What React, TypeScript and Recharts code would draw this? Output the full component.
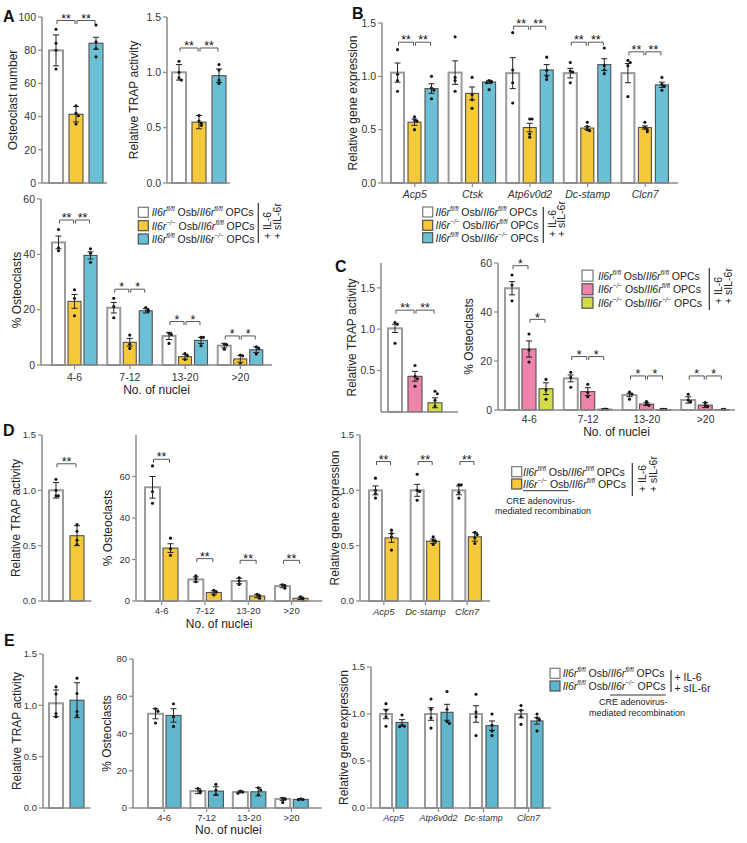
import React from 'react';
import { BarChart, Bar, XAxis, YAxis, ErrorBar } from 'recharts';

const FONT = '"Liberation Sans", Arial, Helvetica, sans-serif';
const AXIS_C = '#8a8a8a';
const TXT = '#222222';
const WHITE = '#ffffff';
const WHITE_EDGE = '#9a9a9a';
const YELLOW = '#F6C93B';
const BLUE = '#6CC0D6';
const BLUE_E = '#60B6CD';
const PINK = '#EE83AB';
const LIME = '#D3DB48';
const EDGE = '#505050';

// ---------------- Panel A ----------------
const aNumCats = [''];
const aNumCtrl = [79.9];
const aNumCtrlSem = [9.3];
const aNumCtrlPts = [[92.6, 84.2, 80.0, 68.7]];
const aNumOsbKo = [41.4];
const aNumOsbKoSem = [4.6];
const aNumOsbKoPts = [[46.5, 42.0, 40.5, 35.5]];
const aNumOpcKo = [84.2];
const aNumOpcKoSem = [3.6];
const aNumOpcKoPts = [[95.2, 85.0, 81.0, 76.0]];
const aNumSig = [
  { cat: 0, from: 0, to: 1, y: 97.9, text: '**' },
  { cat: 0, from: 1, to: 2, y: 97.9, text: '**' },
];

const aTrapCtrl = [1.0];
const aTrapCtrlSem = [0.07];
const aTrapCtrlPts = [[1.1, 1.0, 0.95, 0.93]];
const aTrapOsbKo = [0.55];
const aTrapOsbKoSem = [0.06];
const aTrapOsbKoPts = [[0.61, 0.56, 0.54, 0.52]];
const aTrapOpcKo = [0.97];
const aTrapOpcKoSem = [0.06];
const aTrapOpcKoPts = [[1.07, 1.02, 0.93, 0.9]];
const aTrapSig = [
  { cat: 0, from: 0, to: 1, y: 1.22, text: '**' },
  { cat: 0, from: 1, to: 2, y: 1.22, text: '**' },
];

const nucCats = ['4-6', '7-12', '13-20', '>20'];
const aPctCtrl = [44.3, 20.7, 10.5, 7.0];
const aPctCtrlSem = [2.3, 1.9, 1.3, 0.8];
const aPctCtrlPts = [[49.0, 42.4, 41.3], [24.1, 21.1, 17.1], [11.5, 11.0, 7.8], [7.6, 7.3, 5.7]];
const aPctOsbKo = [23.0, 8.2, 3.0, 2.2];
const aPctOsbKoSem = [2.5, 1.4, 0.9, 1.2];
const aPctOsbKoPts = [[27.2, 24.1, 17.8], [10.8, 7.5, 6.0], [4.1, 3.4, 2.0], [3.6, 3.3, 0.3]];
const aPctOpcKo = [39.6, 19.6, 8.9, 5.5];
const aPctOpcKoSem = [1.3, 0.8, 1.1, 1.0];
const aPctOpcKoPts = [[42.0, 40.4, 37.1], [20.8, 20.0, 19.3], [10.0, 10.0, 7.0], [6.6, 6.0, 4.0]];
const aPctSig = [
  { cat: 0, from: 0, to: 1, y: 52.4, text: '**' },
  { cat: 0, from: 1, to: 2, y: 52.4, text: '**' },
  { cat: 1, from: 0, to: 1, y: 27.4, text: '*' },
  { cat: 1, from: 1, to: 2, y: 27.4, text: '*' },
  { cat: 2, from: 0, to: 1, y: 15.7, text: '*' },
  { cat: 2, from: 1, to: 2, y: 15.7, text: '*' },
  { cat: 3, from: 0, to: 1, y: 10.5, text: '*' },
  { cat: 3, from: 1, to: 2, y: 10.5, text: '*' },
];

// ---------------- Panel B ----------------
const bGenes = ['Acp5', 'Ctsk', 'Atp6v0d2', 'Dc-stamp', 'Clcn7'];
const bCtrl = [1.035, 1.035, 1.03, 1.03, 1.03];
const bCtrlSem = [0.09, 0.11, 0.145, 0.045, 0.09];
const bCtrlPts = [[1.25, 1.02, 0.96, 0.86], [1.37, 0.99, 0.96, 0.86], [1.41, 1.06, 0.94, 0.75], [1.13, 1.05, 1.04, 0.94], [1.15, 1.13, 1.1, 0.81]];
const bOsbKo = [0.57, 0.84, 0.52, 0.515, 0.52];
const bOsbKoSem = [0.03, 0.06, 0.04, 0.015, 0.015];
const bOsbKoPts = [[0.62, 0.59, 0.58, 0.5], [0.99, 0.83, 0.78, 0.7], [0.6, 0.6, 0.46, 0.43], [0.57, 0.53, 0.5, 0.49], [0.57, 0.52, 0.5, 0.48]];
const bOpcKo = [0.885, 0.947, 1.06, 1.11, 0.92];
const bOpcKoSem = [0.045, 0.015, 0.05, 0.055, 0.025];
const bOpcKoPts = [[1.0, 0.89, 0.87, 0.79], [0.96, 0.95, 0.94, 0.875], [1.18, 1.056, 1.0, 0.97], [1.265, 1.1, 1.06, 1.025], [0.99, 0.925, 0.906, 0.87]];
const bSig = [
  { cat: 0, from: 0, to: 1, y: 1.32, text: '**' },
  { cat: 0, from: 1, to: 2, y: 1.32, text: '**' },
  { cat: 2, from: 0, to: 1, y: 1.47, text: '**' },
  { cat: 2, from: 1, to: 2, y: 1.47, text: '**' },
  { cat: 3, from: 0, to: 1, y: 1.32, text: '**' },
  { cat: 3, from: 1, to: 2, y: 1.32, text: '**' },
  { cat: 4, from: 0, to: 1, y: 1.23, text: '**' },
  { cat: 4, from: 1, to: 2, y: 1.23, text: '**' },
];

// ---------------- Panel C ----------------
const cTrapCats = [''];
const cTrapCtrl = [1.01];
const cTrapCtrlSem = [0.05];
const cTrapCtrlPts = [[1.08, 1.06, 0.83]];
const cTrapOsbKo = [0.43];
const cTrapOsbKoSem = [0.06];
const cTrapOsbKoPts = [[0.56, 0.43, 0.4, 0.31]];
const cTrapDko = [0.11];
const cTrapDkoSem = [0.06];
const cTrapDkoPts = [[0.25, 0.22, 0.14, 0.07]];
const cTrapSig = [
  { cat: 0, from: 0, to: 1, y: 1.23, text: '**' },
  { cat: 0, from: 1, to: 2, y: 1.23, text: '**' },
];

const cPctCtrl = [49.7, 12.9, 6.1, 4.1];
const cPctCtrlSem = [2.7, 1.4, 0.7, 1.3];
const cPctCtrlPts = [[55.1, 51.0, 44.6], [15.4, 13.3, 9.3], [7.3, 6.5, 4.4], [6.4, 4.1, 3.4]];
const cPctOsbKo = [24.9, 7.5, 2.4, 2.0];
const cPctOsbKoSem = [3.3, 1.6, 0.6, 1.0];
const cPctOsbKoPts = [[31.0, 24.5, 19.6], [10.5, 7.1, 5.4], [3.5, 2.4, 1.9], [3.0, 1.8, 1.4]];
const cPctDko = [8.7, 0.3, 0.15, 0.1];
const cPctDkoSem = [2.4, 0.1, 0.05, 0];
const cPctDkoPts = [[12.5, 8.2, 4.4], [0.4, 0.3, 0.2], [0.3, 0.3, 0.3], [0.3, 0.3]];
const cPctSig = [
  { cat: 0, from: 0, to: 1, y: 58.9, text: '*' },
  { cat: 0, from: 1, to: 2, y: 37.0, text: '*' },
  { cat: 1, from: 0, to: 1, y: 21.8, text: '*' },
  { cat: 1, from: 1, to: 2, y: 21.8, text: '*' },
  { cat: 2, from: 0, to: 1, y: 13.9, text: '*' },
  { cat: 2, from: 1, to: 2, y: 13.9, text: '*' },
  { cat: 3, from: 0, to: 1, y: 13.9, text: '*' },
  { cat: 3, from: 1, to: 2, y: 13.9, text: '*' },
];

// ---------------- Panel D ----------------
const dTrapCats = [''];
const dTrapCtrl = [1.0];
const dTrapCtrlSem = [0.07];
const dTrapCtrlPts = [[1.1, 1.0, 0.95, 0.95]];
const dTrapOsbKo = [0.59];
const dTrapOsbKoSem = [0.09];
const dTrapOsbKoPts = [[0.69, 0.63, 0.55, 0.51]];
const dTrapSig = [{ cat: 0, from: 0, to: 1, y: 1.24, text: '**' }];

const dPctCtrl = [54.8, 10.4, 9.6, 7.2];
const dPctCtrlSem = [5.2, 1.2, 1.3, 0.8];
const dPctCtrlPts = [[65.1, 52.8, 47.1], [12.1, 10.7, 9.3], [11.2, 9.6, 8.0], [7.8, 7.4, 6.2]];
const dPctOsbKo = [25.5, 4.1, 2.4, 1.3];
const dPctOsbKoSem = [2.1, 0.8, 0.8, 0.6];
const dPctOsbKoPts = [[30.3, 25.2, 22.0], [5.2, 4.4, 2.9], [3.2, 2.5, 1.3], [2.0, 1.3, 0.5]];
const dPctSig = [
  { cat: 0, from: 0, to: 1, y: 68.3, text: '**' },
  { cat: 1, from: 0, to: 1, y: 20.4, text: '**' },
  { cat: 2, from: 0, to: 1, y: 19.6, text: '**' },
  { cat: 3, from: 0, to: 1, y: 19.6, text: '**' },
];

const dGenes = ['Acp5', 'Dc-stamp', 'Clcn7'];
const dGeneCtrl = [1.0, 1.0, 1.0];
const dGeneCtrlSem = [0.04, 0.054, 0.04];
const dGeneCtrlPts = [[1.11, 1.0, 0.97, 0.93], [1.145, 1.0, 0.99, 0.91], [1.05, 1.05, 0.98, 0.93]];
const dGeneOsbKo = [0.57, 0.54, 0.58];
const dGeneOsbKoSem = [0.04, 0.02, 0.04];
const dGeneOsbKoPts = [[0.64, 0.61, 0.58, 0.46], [0.58, 0.55, 0.54, 0.51], [0.62, 0.6, 0.57, 0.52]];
const dGeneSig = [
  { cat: 0, from: 0, to: 1, y: 1.26, text: '**' },
  { cat: 1, from: 0, to: 1, y: 1.26, text: '**' },
  { cat: 2, from: 0, to: 1, y: 1.26, text: '**' },
];

// ---------------- Panel E ----------------
const eTrapCats = [''];
const eTrapCtrl = [1.02];
const eTrapCtrlSem = [0.13];
const eTrapCtrlPts = [[1.18, 1.11, 0.92, 0.89]];
const eTrapOpcKo = [1.05];
const eTrapOpcKoSem = [0.17];
const eTrapOpcKoPts = [[1.265, 1.115, 0.94, 0.9]];

const ePctCtrl = [50.6, 9.1, 8.6, 4.8];
const ePctCtrlSem = [2.7, 1.4, 0.5, 0.7];
const ePctCtrlPts = [[53.3, 52.0, 45.6], [10.5, 9.3, 8.2], [9.1, 8.6, 7.9], [5.2, 4.8, 3.0]];
const ePctOpcKo = [49.7, 9.1, 8.7, 4.6];
const ePctOpcKoSem = [3.6, 2.3, 2.2, 0.3];
const ePctOpcKoPts = [[56.0, 49.0, 43.8], [12.7, 9.7, 7.3], [10.9, 9.7, 7.1], [5.0, 4.6, 4.5]];

const eGenes = ['Acp5', 'Atp6v0d2', 'Dc-stamp', 'Clcn7'];
const eGeneCtrl = [1.0, 1.0, 1.0, 1.0];
const eGeneCtrlSem = [0.05, 0.067, 0.088, 0.04];
const eGeneCtrlPts = [[1.11, 1.04, 0.97, 0.87], [1.16, 1.05, 0.96, 0.85], [1.21, 1.02, 0.97, 0.77], [1.09, 1.04, 0.97, 0.89]];
const eGeneOpcKo = [0.91, 1.018, 0.876, 0.926];
const eGeneOpcKoSem = [0.03, 0.085, 0.05, 0.034];
const eGeneOpcKoPts = [[0.99, 0.88, 0.87, 0.865], [1.24, 1.05, 0.92, 0.9], [1.0, 0.88, 0.82, 0.77], [1.0, 0.96, 0.94, 0.82]];

// ---------------- Text ----------------
type Tok = { t: string; it?: boolean; sup?: boolean };
const lblCtrl: Tok[] = [{ t: 'Il6r', it: true }, { t: 'fl/fl', sup: true }, { t: ' Osb/' }, { t: 'Il6r', it: true }, { t: 'fl/fl', sup: true }, { t: ' OPCs' }];
const lblOsbKo: Tok[] = [{ t: 'Il6r', it: true }, { t: '\u2212/\u2212', sup: true }, { t: ' Osb/' }, { t: 'Il6r', it: true }, { t: 'fl/fl', sup: true }, { t: ' OPCs' }];
const lblOpcKo: Tok[] = [{ t: 'Il6r', it: true }, { t: 'fl/fl', sup: true }, { t: ' Osb/' }, { t: 'Il6r', it: true }, { t: '\u2212/\u2212', sup: true }, { t: ' OPCs' }];
const lblDko: Tok[] = [{ t: 'Il6r', it: true }, { t: '\u2212/\u2212', sup: true }, { t: ' Osb/' }, { t: 'Il6r', it: true }, { t: '\u2212/\u2212', sup: true }, { t: ' OPCs' }];
const treatText = ['+ IL-6', '+ sIL-6r'];
const creText = ['CRE adenovirus-', 'mediated recombination'];
const yTitles = ['Osteoclast number', 'Relative TRAP activity', '% Osteoclasts', 'Relative gene expression'];
const xTitle = 'No. of nuclei';

// ---------------- Chart machinery ----------------
type Series = { vals: number[]; sem: number[]; pts: number[][]; fill: string };
type Sig = { cat: number; from: number; to: number; y: number; text: string };
type Layout = { ax: number; xr: number; yt: number; yb: number; mt: number; xH: number; yW: number; padL: number; padR: number; barSize: number; barGap: number };

const ser = (vals: number[], sem: number[], pts: number[][], fill: string): Series => ({ vals, sem, pts, fill });

function YTitle(props: any) {
  const vb = props.viewBox || { x: 0, y: 0, width: 0, height: 0 };
  const cx = vb.x + vb.width - props.d;
  const cy = vb.y + vb.height / 2 + (props.shift || 0);
  return (
    <text x={cx} y={cy} transform={`rotate(-90 ${cx} ${cy})`} textAnchor="middle" dominantBaseline="central" fontSize={12} fontFamily={FONT} fill={TXT}>
      {props.text}
    </text>
  );
}

function XTitle(props: any) {
  const vb = props.viewBox || { x: 0, y: 0, width: 0, height: 0 };
  const cx = vb.x + vb.width / 2 + (props.dx || 0);
  const cy = vb.y + props.d;
  return (
    <text x={cx} y={cy} textAnchor="middle" dominantBaseline="central" fontSize={12} fontFamily={FONT} fill={TXT}>
      {props.text}
    </text>
  );
}

function makeShape(k: number, s: Series, dmax: number, sig: Sig[], cats: string[], gap: number, fbTop: number, fbH: number) {
  return (p: any) => {
    const { x, y, width, height, payload } = p;
    if (x == null || width == null) return <g />;
    const bg = p.background;
    const top = bg && bg.height ? bg.y : fbTop;
    const h = bg && bg.height ? bg.height : fbH;
    const py = (v: number) => top + h * (1 - v / dmax);
    const cx = x + width / 2;
    const idx = cats.indexOf(payload ? payload.cat : '');
    const pts: number[] = (payload && payload['p' + k]) || [];
    const placed: number[] = [];
    const dots = pts.map((v, j) => {
      const yy = py(v);
      const near = placed.filter((q) => Math.abs(q - yy) < 2.6).length;
      placed.push(yy);
      const dx = near === 0 ? 0 : (near % 2 === 1 ? 2.4 : -2.4) * Math.ceil(near / 2);
      return <circle key={j} cx={cx + dx} cy={yy} r={1.55} fill="#111" />;
    });
    const step = width + gap;
    const brs = sig
      .filter((b) => b.cat === idx && b.from === k)
      .map((b, j) => {
        const x1 = cx + 1;
        const x2 = cx + (b.to - b.from) * step - 1;
        const yy = py(b.y);
        return (
          <g key={'b' + j}>
            <path d={`M${x1},${yy + 3.5}V${yy}H${x2}V${yy + 3.5}`} fill="none" stroke="#555" strokeWidth={1} />
            <text x={(x1 + x2) / 2} y={yy + 2.2} textAnchor="middle" fontSize={12.5} fontFamily={FONT} fill="#111">
              {b.text}
            </text>
          </g>
        );
      });
    const white = s.fill === WHITE;
    return (
      <g>
        <rect x={x} y={y} width={width} height={Math.max(height, 0)} fill={s.fill} stroke={white ? WHITE_EDGE : EDGE} strokeWidth={white ? 2 : 1.1} />
        {dots}
        {brs}
      </g>
    );
  };
}

type ChartProps = {
  cats: string[];
  series: Series[];
  sig: Sig[];
  dmax: number;
  ticks: number[];
  dec: number;
  ylabel: string;
  ylabelD: number;
  ylabelShift?: number;
  xlabel?: string;
  xlabelD?: number;
  xlabelDx?: number;
  showCats: boolean;
  italic?: boolean;
  catTicks?: boolean;
  tickMargin?: number;
  tickFs?: number;
  catFs?: number;
  lay: Layout;
};

function SigChart(props: ChartProps) {
  const { lay, cats, series } = props;
  const mr = 4;
  const width = lay.yW + (lay.xr - lay.ax) + mr;
  const height = lay.mt + (lay.yb - lay.yt) + lay.xH;
  const data = cats.map((c, i) => {
    const r: any = { cat: c };
    series.forEach((s, k) => {
      r['v' + k] = s.vals[i];
      r['e' + k] = s.sem[i];
      r['p' + k] = s.pts[i];
    });
    return r;
  });
  const tfs = props.tickFs ?? 10.5;
  const tickStyle: any = { fontSize: tfs, fill: '#333', fontFamily: FONT };
  const catStyle: any = { fontSize: props.catFs ?? tfs, fill: '#333', fontFamily: FONT, fontStyle: props.italic ? 'italic' : 'normal' };
  return (
    <div style={{ position: 'absolute', left: lay.ax - lay.yW, top: lay.yt - lay.mt, width, height }}>
      <BarChart width={width} height={height} data={data} margin={{ top: lay.mt, right: mr, bottom: 0, left: 0 }} barGap={lay.barGap} barSize={lay.barSize}>
        <XAxis
          dataKey="cat"
          type="category"
          interval={0}
          padding={{ left: lay.padL, right: lay.padR }}
          height={lay.xH}
          axisLine={{ stroke: AXIS_C, strokeWidth: 1.5 }}
          tickLine={props.catTicks ? { stroke: AXIS_C, strokeWidth: 1.2 } : false}
          tickSize={props.catTicks ? 4 : 0}
          tickMargin={props.tickMargin ?? 3}
          tick={props.showCats ? catStyle : false}
          label={props.xlabel ? <XTitle text={props.xlabel} d={props.xlabelD} dx={props.xlabelDx || 0} /> : undefined}
        />
        <YAxis
          type="number"
          domain={[0, props.dmax]}
          ticks={props.ticks}
          interval={0}
          width={lay.yW}
          axisLine={{ stroke: AXIS_C, strokeWidth: 1.5 }}
          tickLine={{ stroke: AXIS_C, strokeWidth: 1.2 }}
          tickSize={4}
          tickMargin={2}
          tick={tickStyle}
          tickFormatter={(v: number) => Number(v).toFixed(props.dec)}
          label={<YTitle text={props.ylabel} d={props.ylabelD} shift={props.ylabelShift || 0} />}
        />
        {series.map((s, k) => (
          <Bar
            key={k}
            dataKey={'v' + k}
            barSize={lay.barSize}
            isAnimationActive={false}
            shape={makeShape(k, s, props.dmax, props.sig, cats, lay.barGap, lay.mt, lay.yb - lay.yt)}
          >
            <ErrorBar dataKey={'e' + k} width={3} stroke="#222" strokeWidth={1} direction="y" isAnimationActive={false} />
          </Bar>
        ))}
      </BarChart>
    </div>
  );
}

// ---------------- Legend overlay ----------------
function Rich({ x, y, toks, fs }: { x: number; y: number; toks: Tok[]; fs: number }) {
  let up = false;
  const kids = toks.map((tk, j) => {
    if (tk.sup) {
      const el = (
        <tspan key={j} fontSize={fs * 0.62} dy={up ? 0 : -fs * 0.4} fontStyle="italic">
          {tk.t}
        </tspan>
      );
      up = true;
      return el;
    }
    const el = (
      <tspan key={j} fontSize={fs} dy={up ? fs * 0.4 : 0} fontStyle={tk.it ? 'italic' : 'normal'}>
        {tk.t}
      </tspan>
    );
    up = false;
    return el;
  });
  return (
    <text x={x} y={y} fontSize={fs} fontFamily={FONT} fill={TXT} dominantBaseline="central" style={{ whiteSpace: 'pre' }}>
      {kids}
    </text>
  );
}

type Row = { fill: string; toks: Tok[] };
function LegendRows({ sx, tx, rowY, rows, sw = 10, sh = 10 }: { sx: number; tx: number; rowY: number[]; rows: Row[]; sw?: number; sh?: number }) {
  return (
    <g>
      {rows.map((r, i) => (
        <g key={i}>
          <rect x={sx} y={rowY[i] - sh / 2} width={sw} height={sh} fill={r.fill} stroke={r.fill === WHITE ? '#777' : EDGE} strokeWidth={1.2} />
          <Rich x={tx} y={rowY[i]} toks={r.toks} fs={10.5} />
        </g>
      ))}
    </g>
  );
}

function Treat({ lx, y1, y2, xs, bottom }: { lx: number; y1: number; y2: number; xs: number[]; bottom: number }) {
  return (
    <g>
      <line x1={lx} y1={y1} x2={lx} y2={y2} stroke="#333" strokeWidth={1.2} />
      {treatText.map((t, i) => (
        <text key={i} x={xs[i]} y={bottom} transform={`rotate(-90 ${xs[i]} ${bottom})`} fontSize={10.5} fontFamily={FONT} fill={TXT} dominantBaseline="central" textAnchor="start" style={{ whiteSpace: 'pre' }}>
          {t}
        </text>
      ))}
    </g>
  );
}

function Letter({ x, y, t }: { x: number; y: number; t: string }) {
  return (
    <text x={x} y={y} fontSize={16} fontWeight="bold" fontFamily={FONT} fill="#111">
      {t}
    </text>
  );
}

function Overlay() {
  return (
    <svg width={747} height={843} style={{ position: 'absolute', left: 0, top: 0, pointerEvents: 'none' }}>
      <Letter x={3} y={22} t="A" />
      <Letter x={352} y={19} t="B" />
      <Letter x={335} y={272} t="C" />
      <Letter x={3} y={436} t="D" />
      <Letter x={4} y={646} t="E" />

      {/* A legend */}
      <LegendRows sx={138.3} tx={151.7} rowY={[212.3, 225.7, 239]} rows={[{ fill: WHITE, toks: lblCtrl }, { fill: YELLOW, toks: lblOsbKo }, { fill: BLUE, toks: lblOpcKo }]} />
      <Treat lx={258.3} y1={203} y2={243} xs={[266.7, 276.7]} bottom={239} />

      {/* B legend */}
      <LegendRows sx={422.7} tx={435.5} rowY={[212, 225.3, 237.7]} rows={[{ fill: WHITE, toks: lblCtrl }, { fill: YELLOW, toks: lblOsbKo }, { fill: BLUE, toks: lblOpcKo }]} />
      <Treat lx={543.3} y1={207} y2={243} xs={[551.7, 560.7]} bottom={237} />

      {/* C legend */}
      <LegendRows sx={582} tx={598} rowY={[275.7, 289.3, 302.7]} sw={11} sh={11} rows={[{ fill: WHITE, toks: lblCtrl }, { fill: PINK, toks: lblOsbKo }, { fill: LIME, toks: lblDko }]} />
      <Treat lx={709.3} y1={268} y2={310} xs={[718.3, 728.3]} bottom={304} />

      {/* D legend */}
      <LegendRows sx={511.7} tx={523} rowY={[471.7, 484]} rows={[{ fill: WHITE, toks: lblCtrl }, { fill: YELLOW, toks: lblOsbKo }]} />
      <Treat lx={632.3} y1={463} y2={496} xs={[642, 653]} bottom={492} />
      <line x1={523} y1={490.7} x2={568.3} y2={490.7} stroke="#333" strokeWidth={1} />
      <text x={540.5} y={500.7} textAnchor="middle" dominantBaseline="central" fontSize={9} fontFamily={FONT} fill={TXT}>
        {creText[0]}
      </text>
      <text x={543} y={511} textAnchor="middle" dominantBaseline="central" fontSize={9} fontFamily={FONT} fill={TXT}>
        {creText[1]}
      </text>

      {/* E legend */}
      <LegendRows sx={550} tx={562.7} rowY={[673.3, 686]} rows={[{ fill: WHITE, toks: lblCtrl }, { fill: BLUE_E, toks: lblOpcKo }]} />
      <line x1={671} y1={670} x2={671} y2={692} stroke="#333" strokeWidth={1.2} />
      <text x={674.5} y={677} dominantBaseline="central" fontSize={10.5} fontFamily={FONT} fill={TXT} style={{ whiteSpace: 'pre' }}>
        {treatText[0]}
      </text>
      <text x={674.5} y={688} dominantBaseline="central" fontSize={10.5} fontFamily={FONT} fill={TXT} style={{ whiteSpace: 'pre' }}>
        {treatText[1]}
      </text>
      <line x1={610} y1={695} x2={665.7} y2={695} stroke="#333" strokeWidth={1} />
      <text x={633.3} y={701.7} textAnchor="middle" dominantBaseline="central" fontSize={9} fontFamily={FONT} fill={TXT}>
        {creText[0]}
      </text>
      <text x={637} y={713.3} textAnchor="middle" dominantBaseline="central" fontSize={9} fontFamily={FONT} fill={TXT}>
        {creText[1]}
      </text>
    </svg>
  );
}

export default function App() {
  return (
    <div style={{ position: 'absolute', left: 0, top: 0, width: 747, height: 843, background: '#fff', overflow: 'hidden', fontFamily: FONT }}>
      {/* A: osteoclast number */}
      <SigChart
        cats={aNumCats}
        series={[ser(aNumCtrl, aNumCtrlSem, aNumCtrlPts, WHITE), ser(aNumOsbKo, aNumOsbKoSem, aNumOsbKoPts, YELLOW), ser(aNumOpcKo, aNumOpcKoSem, aNumOpcKoPts, BLUE)]}
        sig={aNumSig}
        dmax={100}
        ticks={[0, 20, 40, 60, 80, 100]}
        dec={0}
        ylabel={yTitles[0]}
        ylabelD={29}
        showCats={false}
        lay={{ ax: 42, xr: 107, yt: 17, yb: 183, mt: 14, xH: 6, yW: 40, padL: 2, padR: 0, barSize: 14, barGap: 6 }}
      />
      {/* A: TRAP */}
      <SigChart
        cats={aNumCats}
        series={[ser(aTrapCtrl, aTrapCtrlSem, aTrapCtrlPts, WHITE), ser(aTrapOsbKo, aTrapOsbKoSem, aTrapOsbKoPts, YELLOW), ser(aTrapOpcKo, aTrapOpcKoSem, aTrapOpcKoPts, BLUE)]}
        sig={aTrapSig}
        dmax={1.5}
        ticks={[0, 0.5, 1, 1.5]}
        dec={1}
        ylabel={yTitles[1]}
        ylabelD={33}
        showCats={false}
        lay={{ ax: 167, xr: 230, yt: 17, yb: 183, mt: 14, xH: 6, yW: 44, padL: 1, padR: 0, barSize: 14, barGap: 6 }}
      />
      {/* A: % osteoclasts */}
      <SigChart
        cats={nucCats}
        series={[ser(aPctCtrl, aPctCtrlSem, aPctCtrlPts, WHITE), ser(aPctOsbKo, aPctOsbKoSem, aPctOsbKoPts, YELLOW), ser(aPctOpcKo, aPctOpcKoSem, aPctOpcKoPts, BLUE)]}
        sig={aPctSig}
        dmax={60}
        ticks={[0, 20, 40, 60]}
        dec={0}
        ylabel={yTitles[2]}
        ylabelD={24}
        ylabelShift={8}
        xlabel={xTitle}
        xlabelD={25}
        showCats
        catTicks
        tickMargin={5}
        lay={{ ax: 41, xr: 272, yt: 199, yb: 365, mt: 10, xH: 36, yW: 36, padL: 6, padR: 4, barSize: 13, barGap: 3 }}
      />
      {/* B */}
      <SigChart
        cats={bGenes}
        series={[ser(bCtrl, bCtrlSem, bCtrlPts, WHITE), ser(bOsbKo, bOsbKoSem, bOsbKoPts, YELLOW), ser(bOpcKo, bOpcKoSem, bOpcKoPts, BLUE)]}
        sig={bSig}
        dmax={1.5}
        ticks={[0, 0.5, 1, 1.5]}
        dec={1}
        ylabel={yTitles[3]}
        ylabelD={29}
        showCats
        italic
        catTicks
        tickMargin={4}
        lay={{ ax: 382, xr: 678, yt: 22.7, yb: 182.7, mt: 12, xH: 20, yW: 40, padL: 4, padR: 4, barSize: 13, barGap: 4 }}
      />
      {/* C: TRAP */}
      <SigChart
        cats={cTrapCats}
        series={[ser(cTrapCtrl, cTrapCtrlSem, cTrapCtrlPts, WHITE), ser(cTrapOsbKo, cTrapOsbKoSem, cTrapOsbKoPts, PINK), ser(cTrapDko, cTrapDkoSem, cTrapDkoPts, LIME)]}
        sig={cTrapSig}
        dmax={1.8}
        ticks={[0.5, 1, 1.5]}
        dec={1}
        ylabel={yTitles[1]}
        ylabelD={29}
        showCats={false}
        lay={{ ax: 381, xr: 458, yt: 262.8, yb: 411.7, mt: 4, xH: 6, yW: 40, padL: 0, padR: 9, barSize: 14, barGap: 6 }}
      />
      {/* C: % osteoclasts */}
      <SigChart
        cats={nucCats}
        series={[ser(cPctCtrl, cPctCtrlSem, cPctCtrlPts, WHITE), ser(cPctOsbKo, cPctOsbKoSem, cPctOsbKoPts, PINK), ser(cPctDko, cPctDkoSem, cPctDkoPts, LIME)]}
        sig={cPctSig}
        dmax={60}
        ticks={[0, 20, 40, 60]}
        dec={0}
        ylabel={yTitles[2]}
        ylabelD={29}
        xlabel={xTitle}
        xlabelD={22}
        showCats
        tickMargin={6}
        lay={{ ax: 498, xr: 735, yt: 263, yb: 410, mt: 10, xH: 30, yW: 40, padL: 2, padR: 0, barSize: 14, barGap: 3 }}
      />
      {/* D: TRAP */}
      <SigChart
        cats={dTrapCats}
        series={[ser(dTrapCtrl, dTrapCtrlSem, dTrapCtrlPts, WHITE), ser(dTrapOsbKo, dTrapOsbKoSem, dTrapOsbKoPts, YELLOW)]}
        sig={dTrapSig}
        dmax={1.5}
        ticks={[0, 0.5, 1, 1.5]}
        dec={1}
        ylabel={yTitles[1]}
        ylabelD={25.5}
        tickFs={9.5}
        showCats={false}
        lay={{ ax: 42.3, xr: 91.7, yt: 435, yb: 601, mt: 8, xH: 6, yW: 36, padL: 0, padR: 0, barSize: 14, barGap: 7 }}
      />
      {/* D: % osteoclasts */}
      <SigChart
        cats={nucCats}
        series={[ser(dPctCtrl, dPctCtrlSem, dPctCtrlPts, WHITE), ser(dPctOsbKo, dPctOsbKoSem, dPctOsbKoPts, YELLOW)]}
        sig={dPctSig}
        dmax={80}
        ticks={[0, 20, 40, 60]}
        dec={0}
        ylabel={yTitles[2]}
        ylabelD={28}
        ylabelShift={10}
        xlabel={xTitle}
        xlabelD={23}
        xlabelDx={-10}
        showCats
        catTicks
        tickMargin={2}
        tickFs={9.5}
        lay={{ ax: 135.7, xr: 322, yt: 435, yb: 601, mt: 8, xH: 32, yW: 36, padL: 4, padR: 9, barSize: 15, barGap: 3 }}
      />
      {/* D: gene expression */}
      <SigChart
        cats={dGenes}
        series={[ser(dGeneCtrl, dGeneCtrlSem, dGeneCtrlPts, WHITE), ser(dGeneOsbKo, dGeneOsbKoSem, dGeneOsbKoPts, YELLOW)]}
        sig={dGeneSig}
        dmax={1.5}
        ticks={[0, 0.5, 1, 1.5]}
        dec={1}
        ylabel={yTitles[3]}
        ylabelD={25}
        showCats
        italic
        catTicks
        tickMargin={3}
        tickFs={9.5}
        lay={{ ax: 360, xr: 490, yt: 435, yb: 601, mt: 8, xH: 20, yW: 34, padL: 3, padR: 2, barSize: 13, barGap: 3 }}
      />
      {/* E: TRAP */}
      <SigChart
        cats={eTrapCats}
        series={[ser(eTrapCtrl, eTrapCtrlSem, eTrapCtrlPts, WHITE), ser(eTrapOpcKo, eTrapOpcKoSem, eTrapOpcKoPts, BLUE_E)]}
        sig={[]}
        dmax={1.5}
        ticks={[0, 0.5, 1, 1.5]}
        dec={1}
        ylabel={yTitles[1]}
        ylabelD={25.5}
        tickFs={9.5}
        showCats={false}
        lay={{ ax: 42.7, xr: 90, yt: 654.3, yb: 808.3, mt: 6, xH: 6, yW: 36, padL: 0, padR: 0, barSize: 14, barGap: 7 }}
      />
      {/* E: % osteoclasts */}
      <SigChart
        cats={nucCats}
        series={[ser(ePctCtrl, ePctCtrlSem, ePctCtrlPts, WHITE), ser(ePctOpcKo, ePctOpcKoSem, ePctOpcKoPts, BLUE_E)]}
        sig={[]}
        dmax={80}
        ticks={[0, 20, 40, 60, 80]}
        dec={0}
        ylabel={yTitles[2]}
        ylabelD={26}
        xlabel={xTitle}
        xlabelD={22}
        xlabelDx={1}
        showCats
        catTicks
        tickMargin={2}
        tickFs={9.5}
        lay={{ ax: 133.3, xr: 322, yt: 659.3, yb: 808.3, mt: 6, xH: 30, yW: 36, padL: 10, padR: 9, barSize: 15, barGap: 3 }}
      />
      {/* E: gene expression */}
      <SigChart
        cats={eGenes}
        series={[ser(eGeneCtrl, eGeneCtrlSem, eGeneCtrlPts, WHITE), ser(eGeneOpcKo, eGeneOpcKoSem, eGeneOpcKoPts, BLUE_E)]}
        sig={[]}
        dmax={1.5}
        ticks={[0, 0.5, 1, 1.5]}
        dec={1}
        ylabel={yTitles[3]}
        ylabelD={27.5}
        showCats
        italic
        catTicks
        tickMargin={3}
        tickFs={9.5}
        catFs={9}
        lay={{ ax: 370.5, xr: 550.5, yt: 667, yb: 808, mt: 6, xH: 20, yW: 34, padL: 0, padR: 0, barSize: 12, barGap: 4 }}
      />
      <Overlay />
    </div>
  );
}
